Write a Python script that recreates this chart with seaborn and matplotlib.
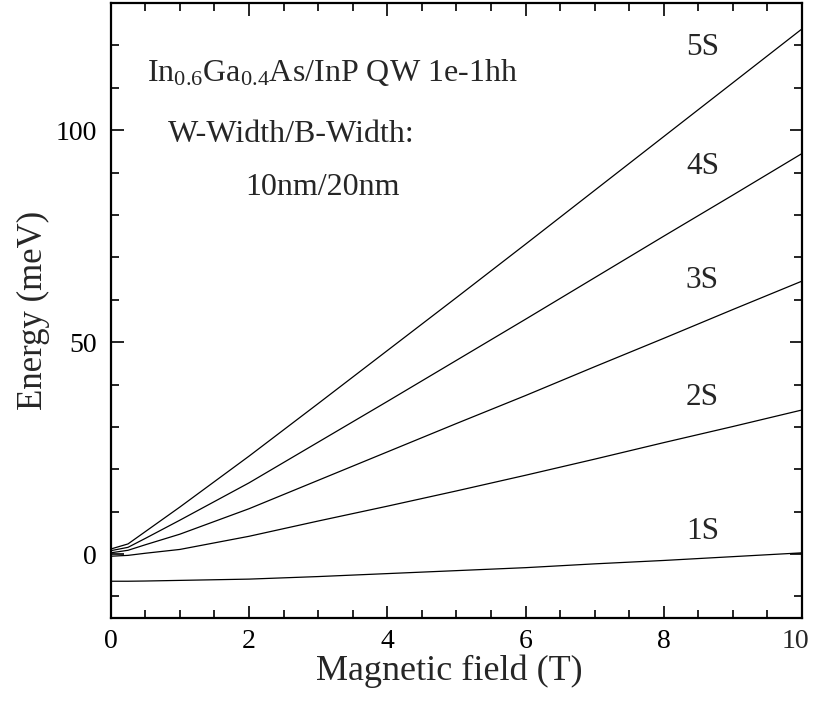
import numpy as np
import pandas as pd
import matplotlib
matplotlib.use("Agg")
import matplotlib.pyplot as plt
from matplotlib.ticker import MultipleLocator, FuncFormatter
import seaborn as sns

# ---- data ----
field = [0, 0.25, 0.5, 1, 2, 3, 4, 5, 6, 7, 8, 9, 10]
e_1s = [-6.4, -6.4, -6.35, -6.2, -5.9, -5.3, -4.6, -3.9, -3.2, -2.3, -1.5, -0.6, 0.3]
e_2s = [-0.5, -0.3, 0.2, 1.1, 4.2, 7.8, 11.3, 14.9, 18.6, 22.4, 26.3, 30.1, 34.0]
e_3s = [0.3, 0.9, 2.2, 4.7, 10.7, 17.4, 24.1, 30.8, 37.4, 44.2, 50.9, 57.7, 64.4]
e_4s = [0.8, 1.6, 3.7, 8.0, 16.8, 26.4, 36.0, 45.7, 55.4, 65.2, 75.0, 84.7, 94.5]
e_5s = [1.2, 2.4, 5.3, 11.1, 23.1, 35.5, 48.0, 60.5, 73.1, 85.8, 98.5, 111.2, 123.9]
state_names = ["1S", "2S", "3S", "4S", "5S"]
label_y = [5.4, 36.9, 64.6, 91.5, 119.5]
label_x = 8.56
x_max = 10

series = [e_1s, e_2s, e_3s, e_4s, e_5s]
df = pd.concat(
    [pd.DataFrame({"B": field, "E": vals, "state": name})
     for name, vals in zip(state_names, series)],
    ignore_index=True,
)

sns.set_theme(style="ticks")
plt.rcParams["font.family"] = ["Liberation Serif", "DejaVu Serif"]
plt.rcParams["mathtext.fontset"] = "custom"
plt.rcParams["mathtext.rm"] = "Liberation Serif"
plt.rcParams["mathtext.it"] = "Liberation Serif:italic"

fig = plt.figure(figsize=(8.13, 7.02), dpi=100)
ax = fig.add_axes([0.1362, 0.1201, 0.8503, 0.8756])

sns.lineplot(data=df, x="B", y="E", hue="state", palette=["black"] * 5,
             legend=False, linewidth=0.9, ax=ax, estimator=None, sort=False)

ax.set_xlim(0, x_max)
ax.set_ylim(-15, 130)
ax.xaxis.set_major_locator(MultipleLocator(2))
ax.xaxis.set_minor_locator(MultipleLocator(0.5))
ax.yaxis.set_major_locator(MultipleLocator(50))
ax.yaxis.set_minor_locator(MultipleLocator(10))
# last x tick label is drawn separately (nudged inwards, as in the reference)
ax.xaxis.set_major_formatter(FuncFormatter(lambda v, p: "" if abs(v - x_max) < 1e-9 else f"{v:g}"))
ax.tick_params(which="both", direction="in", top=True, right=True,
               colors="black", labelsize=20, width=1.2)
ax.tick_params(which="major", length=9, pad=8)
ax.tick_params(axis="y", which="major", pad=10)
ax.tick_params(which="minor", length=6)
for sp in ax.spines.values():
    sp.set_linewidth(1.6)
    sp.set_color("black")

ax.annotate(f"{x_max:g}", xy=(x_max, 0), xycoords=("data", "axes fraction"),
            xytext=(-4.5, -8), textcoords="offset points",
            ha="center", va="top", fontsize=20)

ax.set_xlabel("Magnetic field (T)", fontsize=26)
ax.xaxis.set_label_coords(0.49, -0.06, transform=ax.transAxes)
ax.xaxis.label.set_va("top")
ax.set_ylabel("Energy (meV)", fontsize=25, labelpad=4)

for name, ly in zip(state_names, label_y):
    ax.text(label_x, ly, name, fontsize=22.5, ha="center", va="center")

ax.text(0.52, 113.5, r"In$_{\mathrm{0.6}}$Ga$_{\mathrm{0.4}}$As/InP QW 1e-1hh",
        fontsize=23, ha="left", va="center")
ax.text(0.82, 99, "W-Width/B-Width:", fontsize=23, ha="left", va="center")
ax.text(1.95, 86.5, "10nm/20nm", fontsize=23, ha="left", va="center")

fig.savefig("out.png", dpi=100)
